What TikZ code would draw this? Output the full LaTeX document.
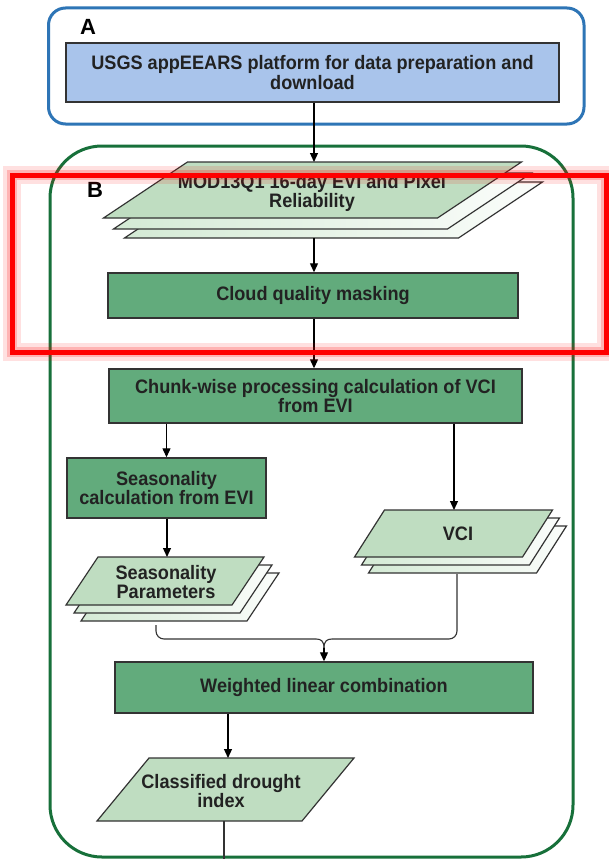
\documentclass[tikz,border=0pt]{standalone}
\usepackage{fontspec}
\setmainfont{Liberation Sans}[FakeStretch=0.93]
\newfontfamily\labfont{Liberation Sans}
\usetikzlibrary{arrows.meta,calc}
\definecolor{bline}{HTML}{2E75B6}
\definecolor{gline}{HTML}{17703A}
\definecolor{bfill}{HTML}{A9C4EB}
\definecolor{pfill}{HTML}{62AB7C}
\definecolor{dfill}{HTML}{BFDDC1}
\definecolor{lfill}{HTML}{D4EAD5}
\definecolor{txtc}{HTML}{222222}
\definecolor{edgec}{HTML}{333333}
\newcommand\parapath[6]{%
  \path[#6] ({#1-#3/2+#5/2},{#2-#4/2}) -- ({#1+#3/2+#5/2},{#2-#4/2})
    -- ({#1+#3/2-#5/2},{#2+#4/2}) -- ({#1-#3/2-#5/2},{#2+#4/2}) -- cycle;}
\tikzset{
  procbox/.style={draw=edgec, line width=1.4pt, fill=pfill, inner sep=0pt, align=center, text=txtc},
  txt/.style={inner sep=0pt, align=center, text=txtc},
  dtop/.style={draw=edgec, line width=1.2pt, fill=dfill},
  dlay/.style={draw=edgec, line width=1.2pt, left color=lfill, right color=white!90!lfill},
  arr/.style={draw=black, line width=1.2pt, -{Triangle[length=9pt,width=8pt]}},
  con/.style={draw=black!80, line width=1.1pt},
  biglab/.style={inner sep=0pt, font=\labfont\fontsize{22}{22}\selectfont\bfseries, text=black}
}
\begin{document}
\begin{tikzpicture}[x=1pt,y=-1pt,font=\fontsize{19.5}{19.5}\selectfont\bfseries]
\useasboundingbox (0,0) rectangle (609,859);
\fill[white] (0,0) rectangle (609,859);
% outer frames
\draw[bline, line width=3pt, rounded corners=17pt] (48.5,8) rectangle (584,124);
\draw[gline, line width=3pt, rounded corners=52pt] (50,146) rectangle (573,857);
\node[biglab] (labA) at (88,27) {A};
\node[biglab] (labB) at (95,190) {B};
% A: USGS box
\node[procbox, fill=bfill, minimum width=493pt, minimum height=59pt] (usgs) at (312.5,72.5)
  {USGS appEEARS platform for data preparation and\\download};
% MOD stack
\parapath{333.5}{210}{334}{56}{84}{dlay}
\parapath{322.5}{201}{334}{56}{84}{dlay}
\parapath{312.5}{190}{334}{56}{84}{dtop}
\node[txt] (mod) at (312,193) {MOD13Q1 16-day EVI and Pixel\\Reliability};
\coordinate (modtop) at (314,162);
\coordinate (modbot) at (314,238);
% process boxes
\node[procbox, minimum width=410pt, minimum height=45pt] (cloud) at (313,295.5) {Cloud quality masking};
\node[procbox, minimum width=413pt, minimum height=54pt] (chunk) at (315.5,396) {Chunk-wise processing calculation of VCI\\from EVI};
\node[procbox, minimum width=199pt, minimum height=60pt] (seas) at (166.5,488) {Seasonality\\calculation from EVI};
% seasonality parameters stack
\parapath{180}{597}{166}{48}{32}{dlay}
\parapath{173}{589}{166}{48}{32}{dlay}
\parapath{165}{581}{166}{48}{32}{dtop}
\node[txt] (sp) at (166,582) {Seasonality\\Parameters};
\coordinate (sptop) at (167,557);
\coordinate (spbot) at (156,625);
% VCI stack
\parapath{467.5}{549.5}{168}{47}{30}{dlay}
\parapath{460.5}{541.5}{168}{47}{30}{dlay}
\parapath{453.5}{533.5}{168}{47}{30}{dtop}
\node[txt] (vci) at (458,534) {VCI};
\coordinate (vcitop) at (454,510);
\coordinate (vcibot) at (457,574);
% weighted
\node[procbox, minimum width=418pt, minimum height=51pt] (wlc) at (324,687.5) {Weighted linear combination};
% classified
\parapath{225.5}{789.5}{205}{63}{52}{dtop}
\node[txt] (cdi) at (221,791) {Classified drought\\index};
\coordinate (cditop) at (228,758);
\coordinate (cdibot) at (224,821);
\coordinate (cdiend) at (224,866);
% connectors
\draw[arr] (usgs.south -| modtop) -- (modtop);
\draw[arr] (modbot) -- (modbot |- cloud.north);
\draw[arr] (cloud.south -| modbot) -- (chunk.north -| modbot);
\draw[arr] (chunk.south -| seas.north) -- (seas.north);
\draw[arr] (chunk.south -| vcitop) -- (vcitop);
\draw[arr] (seas.south -| sptop) -- (sptop);
\coordinate (merge) at (324,648);
\draw[con, rounded corners=8pt] (spbot) -- (156,639) -- (316,639);
\draw[con] (316,639) .. controls (321,639) and (324,641) .. (merge);
\draw[con, rounded corners=8pt] (vcibot) -- (457,639) -- (332,639);
\draw[con] (332,639) .. controls (327,639) and (324,641) .. (merge);
\draw[arr] (merge) -- (merge |- wlc.north);
\draw[arr] (wlc.south -| cditop) -- (cditop);
\draw[con] (cdibot) -- (cdiend);
% red highlight
\draw[red, opacity=0.12, line width=18pt] (12,175) rectangle (606,352);
\draw[red, opacity=0.2, line width=10pt] (12,175) rectangle (606,352);
\draw[red, line width=5pt] (12,175) rectangle (606,352);
\end{tikzpicture}
\end{document}
